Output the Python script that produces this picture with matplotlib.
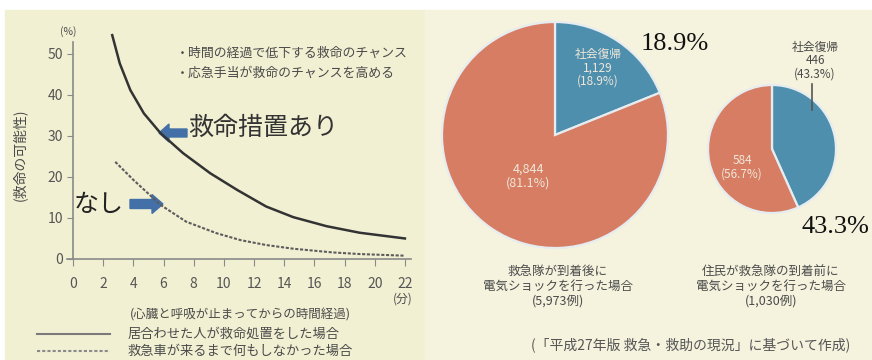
import matplotlib
matplotlib.use("Agg")
import matplotlib.pyplot as plt
from matplotlib.patches import Rectangle, FancyArrow

plt.rcParams['font.family'] = ['Noto Sans CJK JP', 'DejaVu Sans']

# chance of survival (%) vs minutes after cardiac arrest
minutes_aid = [2.6, 3.1, 3.8, 4.7, 5.8, 7.3, 9.1, 10.9, 12.8, 14.6, 16.8, 19.0, 22.0]
chance_aid = [54.6, 47.7, 41.2, 35.5, 30.7, 25.8, 20.9, 16.8, 12.8, 10.2, 8.0, 6.4, 5.0]
minutes_none = [2.8, 4.0, 5.8, 7.5, 9.5, 11.1, 12.8, 14.6, 17.2, 19.0, 22.0]
chance_none = [23.7, 19.3, 13.2, 9.1, 6.3, 4.6, 3.4, 2.5, 1.6, 1.2, 0.8]
x_ticks = list(range(0, 23, 2))
y_ticks = [0, 10, 20, 30, 40, 50]

# AED shocks: [社会復帰, その他]
shock_team = [1129, 4844]
shock_citizen = [446, 584]
case_team = 5973
case_citizen = 1030

W, H = 872, 360
BLUE = '#4e8fae'
ORANGE = '#d67d63'
ARROW = '#4470a8'
TXT = '#4a4a4a'


def Y(py):
    return H - py


fig = plt.figure(figsize=(W / 100, H / 100), dpi=100)
fig.patch.set_facecolor('white')

# full-figure canvas in pixel units
cv = fig.add_axes([0, 0, 1, 1])
cv.add_patch(Rectangle((5, 0), 420, Y(10), color='#f2f0d3', zorder=0))
cv.add_patch(Rectangle((425, 0), 447, Y(10), color='#f5f3de', zorder=0))

wp = dict(edgecolor='#e6ecef', linewidth=1.6)
cv.pie(shock_team, center=(555, Y(135)), radius=113, startangle=90,
       counterclock=False, colors=[BLUE, ORANGE], wedgeprops=wp)
cv.pie(shock_citizen, center=(772, Y(149)), radius=64, startangle=90,
       counterclock=False, colors=[BLUE, ORANGE], wedgeprops=wp)
cv.set_xlim(0, W)
cv.set_ylim(0, H)
cv.set_aspect('auto')
cv.axis('off')

pt = [v / sum(shock_team) * 100 for v in shock_team]
pc = [v / sum(shock_citizen) * 100 for v in shock_citizen]
light = '#efe7d8'
cv.text(598, Y(68), f"社会復帰\n{shock_team[0]:,}\n({pt[0]:.1f}%)", ha='center', va='center',
        fontsize=8.5, color=light, linespacing=1.05)
cv.text(528, Y(176), f"{shock_team[1]:,}\n({pt[1]:.1f}%)", ha='center', va='center',
        fontsize=9, color=light, linespacing=1.1)
cv.text(742, Y(167), f"{shock_citizen[1]:,}\n({pc[1]:.1f}%)", ha='center', va='center',
        fontsize=8.5, color=light, linespacing=1.1)
cv.text(815, Y(61), f"社会復帰\n{shock_citizen[0]:,}\n({pc[0]:.1f}%)", ha='center', va='center',
        fontsize=8.5, color=TXT, linespacing=1.05)
cv.plot([812, 812], [Y(84), Y(110)], color='#555555', lw=1.2)
cv.text(675, Y(44), f"{pt[0]:.1f}%", ha='center', va='center', fontsize=19,
        family='Liberation Serif', color='#111111')
cv.text(835, Y(227), f"{pc[0]:.1f}%", ha='center', va='center', fontsize=19,
        family='Liberation Serif', color='#111111')

cv.text(558, Y(286), f"救急隊が到着後に\n電気ショックを行った場合\n({case_team:,}例)",
        ha='center', va='center', fontsize=9, color=TXT, linespacing=1.2)
cv.text(771, Y(286), f"住民が救急隊の到着前に\n電気ショックを行った場合\n({case_citizen:,}例)",
        ha='center', va='center', fontsize=9, color=TXT, linespacing=1.2)
cv.text(691, Y(345), "(「平成27年版 救急・救助の現況」に基づいて作成)", ha='center', va='center',
        fontsize=10, color='#555555')

# left panel texts
cv.text(20, Y(155), "(救命の可能性)", rotation=90, ha='center', va='center', fontsize=10, color=TXT)
cv.text(68, Y(32), "(%)", ha='center', va='center', fontsize=7.5, color=TXT)
cv.text(176, Y(53), "・時間の経過で低下する救命のチャンス", ha='left', va='center', fontsize=9.3, color=TXT)
cv.text(176, Y(73), "・応急手当が救命のチャンスを高める", ha='left', va='center', fontsize=9.3, color=TXT)
cv.text(188, Y(128), "救命措置あり", ha='left', va='center', fontsize=18, color='#333333')
cv.text(74, Y(205), "なし", ha='left', va='center', fontsize=18, color='#222222')
cv.add_patch(FancyArrow(187, Y(133), -28, 0, width=8, head_width=18, head_length=10,
                        length_includes_head=True, color=ARROW, zorder=5))
cv.add_patch(FancyArrow(130, Y(204), 33, 0, width=9, head_width=19, head_length=11,
                        length_includes_head=True, color=ARROW, zorder=5))
cv.text(403, Y(299), "(分)", ha='center', va='center', fontsize=8.5, color=TXT)
cv.text(240, Y(315), "(心臓と呼吸が止まってからの時間経過)", ha='center', va='center', fontsize=9, color=TXT)
cv.plot([37, 110], [Y(334), Y(334)], color='#7a7a7a', lw=1.5)
cv.text(128, Y(334), "居合わせた人が救命処置をした場合", ha='left', va='center', fontsize=9.5, color=TXT)
cv.plot([37, 110], [Y(351), Y(351)], color='#8a8a8a', lw=1.5, ls=(0, (1.5, 1)))
cv.text(128, Y(351), "救急車が来るまで何もしなかった場合", ha='left', va='center', fontsize=9.5, color=TXT)

# line chart
ax = fig.add_axes([66.96 / W, (H - 260.2) / H, 344 / W, 230.8 / H])
ax.patch.set_alpha(0)
ax.plot(minutes_aid, chance_aid, color='#333333', lw=1.8)
ax.plot(minutes_none, chance_none, color='#5c5c5c', lw=1.5, ls=(0, (1.5, 0.8)))
ax.set_xlim(-0.4, 22.4)
ax.set_ylim(-0.3, 56)
for s in ['top', 'right']:
    ax.spines[s].set_visible(False)
ax.spines['left'].set_position(('data', 0))
ax.spines['bottom'].set_position(('data', 0))
ax.spines['left'].set_bounds(0, 53)
for s in ['left', 'bottom']:
    ax.spines[s].set_color('#8a8a8a')
    ax.spines[s].set_linewidth(1.2)
ax.set_xticks(x_ticks)
ax.set_yticks(y_ticks)
ax.tick_params(axis='x', length=5, pad=8, colors='#8a8a8a', labelcolor='#555555', labelsize=10)
ax.tick_params(axis='y', length=4, pad=3, colors='#8a8a8a', labelcolor='#555555', labelsize=10)

fig.savefig('out.png', dpi=100)
